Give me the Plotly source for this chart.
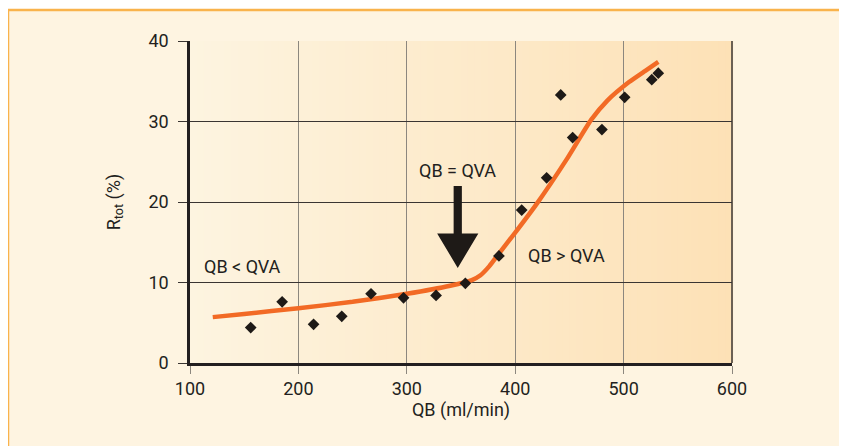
import plotly.graph_objects as go

# Measured points
qb_points = [156, 185, 214, 240, 267, 297, 327, 354, 385, 406, 429, 442, 453, 480, 501, 526, 532]
r_points = [4.4, 7.6, 4.8, 5.8, 8.6, 8.1, 8.4, 9.9, 13.3, 19.0, 23.0, 33.3, 28.0, 29.0, 33.0, 35.2, 36.0]

# Fitted curve
qb_curve = [121, 150, 200, 250, 300, 340, 360, 368, 376, 385, 400, 420, 447, 470, 485, 505, 520, 532]
r_curve = [5.7, 6.1, 6.8, 7.6, 8.6, 9.6, 10.3, 10.9, 12.0, 13.6, 16.2, 19.8, 25.2, 30.2, 32.6, 34.9, 36.3, 37.4]

x_ticks = [100, 200, 300, 400, 500, 600]
y_ticks = [0, 10, 20, 30, 40]

# Arrow marking QB = QVA (x, shaft top, head base, tip)
arrow_x = 347
arrow_top = 22.0
arrow_head_base = 16.1
arrow_tip = 11.8

FONT = "Roboto, Liberation Sans, sans-serif"
TXT = "#231F20"

fig = go.Figure()

fig.add_trace(go.Scatter(
    x=qb_curve, y=r_curve, mode="lines",
    line=dict(color="#F26A25", width=4.5, shape="spline", smoothing=0.5),
    hoverinfo="skip", showlegend=False,
))
fig.add_trace(go.Scatter(
    x=qb_points, y=r_points, mode="markers",
    marker=dict(symbol="diamond", size=9, color="#1E1A17"),
    showlegend=False,
))

shapes = []
# outer panel with orange border
shapes.append(dict(type="rect", xref="paper", yref="paper",
                   x0=-0.3358, x1=1.6, y0=-0.5, y1=1.0963,
                   fillcolor="#FEF4E1", line=dict(color="#F9B34C", width=2.5),
                   layer="below"))
# plot area gradient
n = 80
c0 = (253, 244, 224)
c1 = (253, 225, 182)
for i in range(n):
    t = (i + 0.5) / n
    col = tuple(round(a + (b - a) * t) for a, b in zip(c0, c1))
    shapes.append(dict(type="rect", xref="x domain", yref="y domain",
                       x0=i / n, x1=(i + 1) / n + 0.002, y0=0, y1=1,
                       fillcolor="rgb(%d,%d,%d)" % col, line=dict(width=0),
                       layer="below"))
# right border line
shapes.append(dict(type="line", xref="x domain", yref="y domain",
                   x0=1, x1=1, y0=0, y1=1, line=dict(color="#3A3532", width=1.5)))
# arrow
hw_shaft = 3.8
hw_head = 19
path = ("M {a},{t} L {b},{t} L {b},{h} L {c},{h} L {x},{tip} L {d},{h} L {e},{h} L {e},{t} Z"
        .format(a=arrow_x - hw_shaft, b=arrow_x + hw_shaft, c=arrow_x + hw_head,
                d=arrow_x - hw_head, e=arrow_x - hw_shaft, x=arrow_x,
                t=arrow_top, h=arrow_head_base, tip=arrow_tip))
shapes.append(dict(type="path", xref="x", yref="y", path=path,
                   fillcolor="#1E1A17", line=dict(width=0)))

annotations = [
    dict(x=347, y=23.9, text="QB = QVA", showarrow=False, xref="x", yref="y",
         font=dict(family=FONT, size=18, color=TXT)),
    dict(x=148, y=12.0, text="QB < QVA", showarrow=False, xref="x", yref="y",
         font=dict(family=FONT, size=18, color=TXT)),
    dict(x=447, y=13.4, text="QB > QVA", showarrow=False, xref="x", yref="y",
         font=dict(family=FONT, size=18, color=TXT)),
]

# the page body adds an 8px offset, so the figure is drawn 8px smaller
fig.update_layout(
    width=839, height=438,
    margin=dict(l=182, r=115, t=33, b=83),
    paper_bgcolor="white",
    plot_bgcolor="rgba(0,0,0,0)",
    font=dict(family=FONT, size=18, color=TXT),
    shapes=shapes,
    annotations=annotations,
    xaxis=dict(
        range=[100, 600], tickvals=x_ticks, ticktext=[str(v) for v in x_ticks],
        showgrid=True, gridcolor="#8C877E", gridwidth=1.2,
        showline=True, linecolor="#231F20", linewidth=2.5,
        ticks="outside", ticklen=8, tickcolor="#8C877E", tickwidth=1.2,
        zeroline=False,
        title=dict(text="QB (ml/min)", standoff=4, font=dict(size=18)),
        tickfont=dict(size=18),
    ),
    yaxis=dict(
        range=[0, 40], tickvals=y_ticks, ticktext=[str(v) for v in y_ticks],
        showgrid=True, gridcolor="#3A3532", gridwidth=1.2,
        showline=True, linecolor="#231F20", linewidth=2.5,
        ticks="outside", ticklen=9, tickcolor="#3A3532", tickwidth=1.2,
        ticklabelstandoff=6,
        zeroline=False,
        title=dict(text="R<sub>tot</sub> (%)", standoff=24, font=dict(size=18)),
        tickfont=dict(size=18),
    ),
)

fig.write_html("out.html")
